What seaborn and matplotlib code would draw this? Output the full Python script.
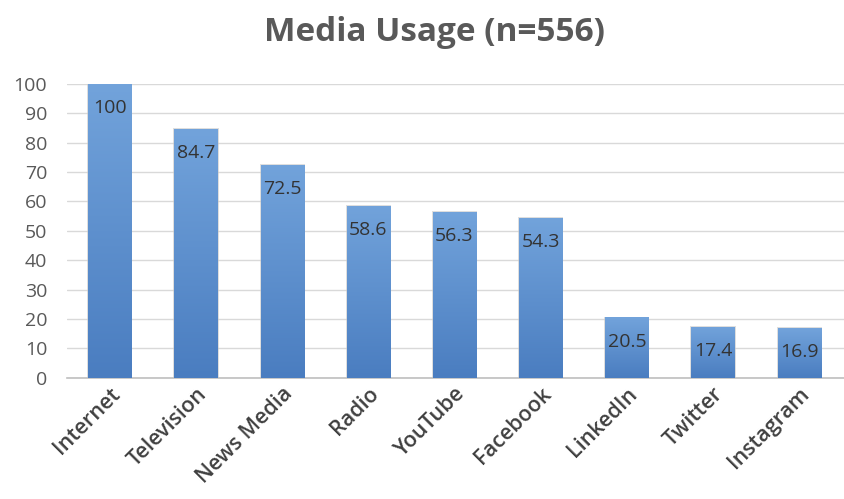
import matplotlib
matplotlib.use("Agg")
import matplotlib.pyplot as plt
import seaborn as sns
import numpy as np
import pandas as pd
from matplotlib.colors import LinearSegmentedColormap

categories = ["Internet", "Television", "News Media", "Radio", "YouTube",
              "Facebook", "LinkedIn", "Twitter", "Instagram"]
values = [100, 84.7, 72.5, 58.6, 56.3, 54.3, 20.5, 17.4, 16.9]
value_labels = ["100", "84.7", "72.5", "58.6", "56.3", "54.3", "20.5", "17.4", "16.9"]
yticks = [0, 10, 20, 30, 40, 50, 60, 70, 80, 90, 100]
title = "Media Usage (n=556)"

df = pd.DataFrame({"category": categories, "value": values})

sns.set_style("white")
plt.rcParams["font.family"] = ["Open Sans", "DejaVu Sans"]

fig = plt.figure(figsize=(8.44, 4.99), dpi=100)
ax = fig.add_axes([0.079, 0.243, 0.921, 0.589])

sns.barplot(data=df, x="category", y="value", color="#5b8fd0", width=0.5,
            ax=ax, zorder=3, saturation=1)

ax.set_ylim(0, 100)
ax.set_xlim(-0.5, len(categories) - 0.5 + 0.02)
ax.set_yticks(yticks)
ax.set_yticklabels([str(t) for t in yticks])
ax.yaxis.grid(True, color="#d9d9d9", linewidth=1, zorder=0)
ax.set_axisbelow(True)
for s in ["top", "right", "left"]:
    ax.spines[s].set_visible(False)
ax.spines["bottom"].set_color("#bfbfbf")
ax.spines["bottom"].set_linewidth(1.2)
ax.set_xlabel("")
ax.set_ylabel("")
ax.tick_params(axis="y", length=0, labelsize=14, labelcolor="#595959", pad=14)
ax.tick_params(axis="x", length=0, labelsize=15.5, labelcolor="#404040", pad=4)
for lbl in ax.get_xticklabels():
    lbl.set_rotation(45)
    lbl.set_ha("right")
    lbl.set_rotation_mode("anchor")
    lbl.set_fontweight("semibold")

# gradient fill on bars
cmap = LinearSegmentedColormap.from_list("g", ["#4a7dc0", "#72a3db"])
grad = np.linspace(0, 1, 256).reshape(-1, 1)
for p in ax.patches:
    x0, y0 = p.get_x(), p.get_y()
    w, h = p.get_width(), p.get_height()
    sh = plt.Rectangle((x0 - 0.012, y0), w + 0.024, h + 0.3, facecolor="#c8c8c8",
                       edgecolor="none", zorder=2, alpha=0.6)
    ax.add_patch(sh)
    im = ax.imshow(grad, extent=(x0, x0 + w, y0, y0 + h), origin="lower",
                   cmap=cmap, aspect="auto", zorder=3.5)
    im.set_clip_path(p)
    p.set_edgecolor("none")

for i, (v, lab) in enumerate(zip(values, value_labels)):
    ax.text(i, v - 8.2, lab, ha="center", va="center", fontsize=14,
            color="#333333", zorder=5)

ax.set_xlim(-0.5, len(categories) - 0.5 + 0.02)
ax.set_ylim(0, 100)

fig.text(0.515, 0.935, title, ha="center", va="center", fontsize=24,
         fontweight="bold", color="#595959")

fig.savefig("out.png", dpi=100, facecolor="white")
